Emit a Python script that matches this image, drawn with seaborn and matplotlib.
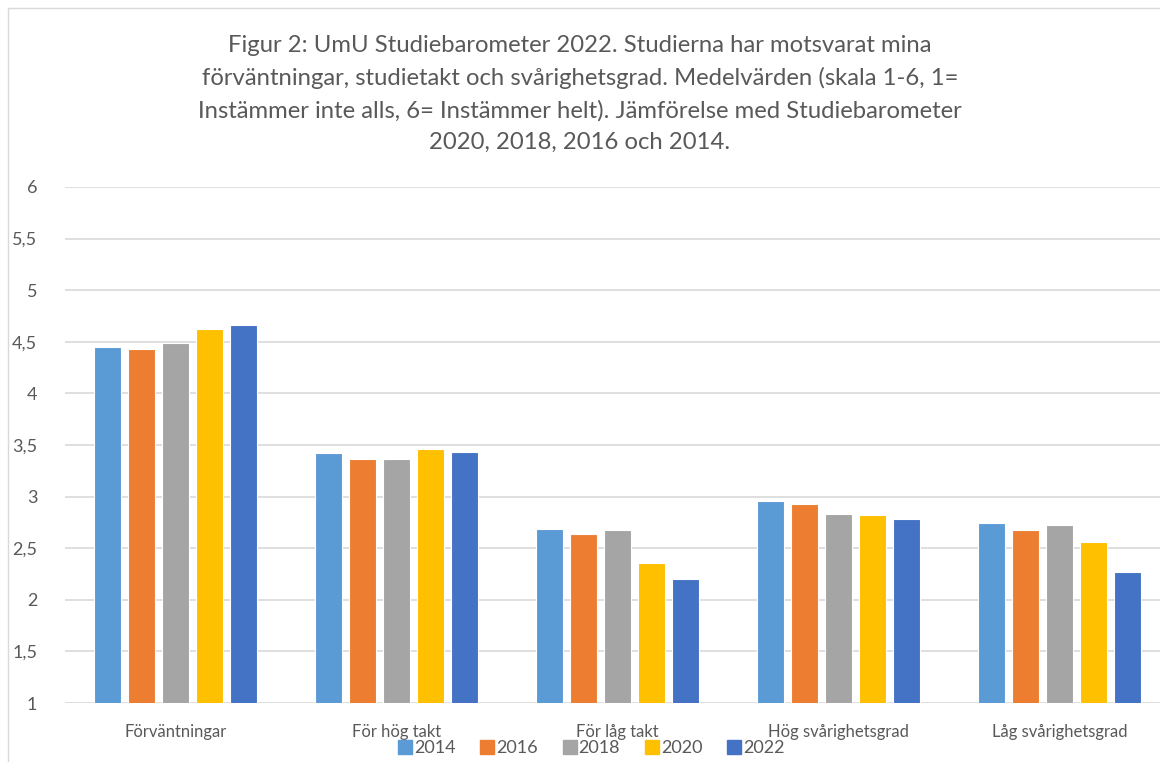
"""
UmU Studiebarometer 2022 - grouped bar chart of mean values by year.
"""

import matplotlib
matplotlib.use("Agg")
import matplotlib.pyplot as plt
import matplotlib.ticker as mtick
from matplotlib.lines import Line2D
import pandas as pd
import seaborn as sns

CATEGORIES = ["Förväntningar", "För hög takt", "För låg takt",
              "Hög svårighetsgrad", "Låg svårighetsgrad"]
YEARS = ["2014", "2016", "2018", "2020", "2022"]
V2014 = [4.45, 3.42, 2.69, 2.96, 2.74]
V2016 = [4.43, 3.36, 2.64, 2.93, 2.68]
V2018 = [4.49, 3.36, 2.68, 2.83, 2.72]
V2020 = [4.62, 3.46, 2.36, 2.82, 2.56]
V2022 = [4.66, 3.43, 2.20, 2.78, 2.27]

COLOURS = ["#5B9BD5", "#ED7D31", "#A5A5A5", "#FFC000", "#4472C4"]
TITLE = ("Figur 2: UmU Studiebarometer 2022. Studierna har motsvarat mina\n"
         "förväntningar, studietakt och svårighetsgrad. Medelvärden (skala 1-6, 1=\n"
         "Instämmer inte alls, 6= Instämmer helt). Jämförelse med Studiebarometer\n"
         "2020, 2018, 2016 och 2014.")

sns.set_theme(style="white")
plt.rcParams["font.family"] = ["Lato", "DejaVu Sans"]

rows = []
for year, vals in zip(YEARS, [V2014, V2016, V2018, V2020, V2022]):
    for cat, v in zip(CATEGORIES, vals):
        rows.append({"kategori": cat, "år": year, "värde": v})
df = pd.DataFrame(rows)

W, H = 1160, 762
fig = plt.figure(figsize=(W / 100, H / 100), dpi=100)
ax = fig.add_axes([65 / W, 1 - 703 / H, 1105 / W, (703 - 187) / H])

sns.barplot(data=df, x="kategori", y="värde", hue="år", palette=COLOURS,
            order=CATEGORIES, hue_order=YEARS, width=0.77, gap=0.2,
            saturation=1, edgecolor="white", linewidth=0.8, ax=ax,
            legend=False)

ax.set_ylim(1, 6)
ax.set_yticks([1, 1.5, 2, 2.5, 3, 3.5, 4, 4.5, 5, 5.5, 6])
ax.yaxis.set_major_formatter(
    mtick.FuncFormatter(lambda v, _: f"{v:g}".replace(".", ",")))
ax.grid(axis="y", color="#D9D9D9", linewidth=1.2)
ax.set_axisbelow(True)
for s in ax.spines.values():
    s.set_visible(False)
ax.set(xlabel="", ylabel="")
ax.tick_params(axis="y", labelsize=13, colors="#595959", pad=20, length=0)
ax.tick_params(axis="x", labelsize=12, colors="#595959", pad=15, length=0)

fig.text(0.5, 1 - 94 / H, TITLE, ha="center", va="center", fontsize=17.2,
         color="#595959", linespacing=1.62)

handles = [Line2D([], [], marker="s", linestyle="", markersize=10,
                  color=c) for c in COLOURS]
fig.legend(handles, YEARS, loc="center", bbox_to_anchor=(592 / W, 1 - 748 / H),
           ncol=5, frameon=False, fontsize=13, handlelength=0.6,
           handletextpad=0.2, columnspacing=1.45, labelcolor="#595959",
           borderaxespad=0, borderpad=0)

# outer chart frame
fig.add_artist(Line2D([8 / W, 8 / W], [0, 1 - 8 / H], color="#D9D9D9",
                      linewidth=1, transform=fig.transFigure))
fig.add_artist(Line2D([8 / W, 1], [1 - 8 / H, 1 - 8 / H], color="#D9D9D9",
                      linewidth=1, transform=fig.transFigure))

fig.savefig("out.png", dpi=100, facecolor="white")
